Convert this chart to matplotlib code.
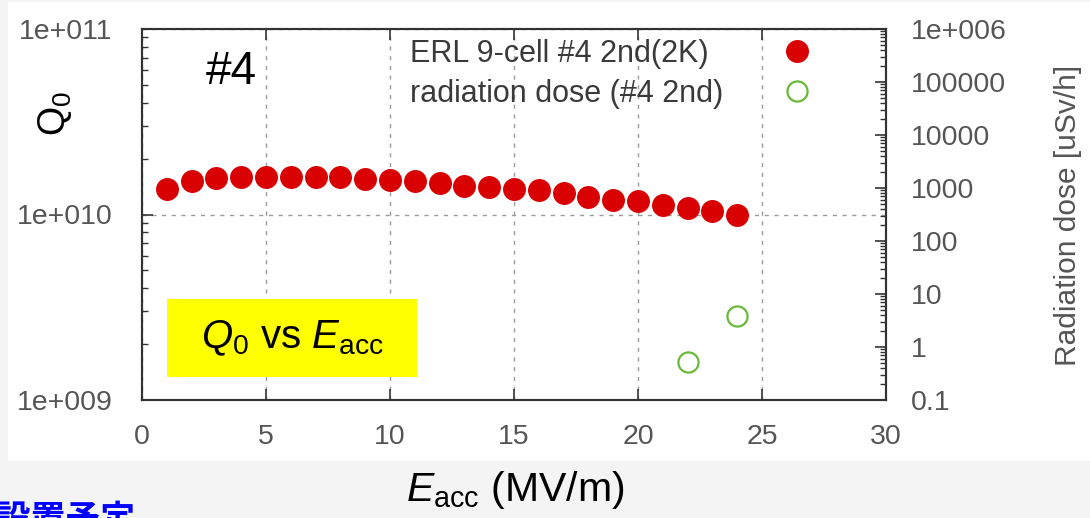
import matplotlib
matplotlib.use('Agg')
import matplotlib.pyplot as plt
from matplotlib.patches import Rectangle
from matplotlib.ticker import FixedLocator, FixedFormatter, LogLocator, NullFormatter, NullLocator

# ---------------- data ----------------
eacc = [1, 2, 3, 4, 5, 6, 7, 8, 9, 10, 11, 12, 13, 14, 15, 16, 17, 18, 19, 20, 21, 22, 23, 24]
q0 = [1.375e10, 1.51e10, 1.58e10, 1.60e10, 1.60e10, 1.60e10, 1.60e10, 1.60e10,
      1.56e10, 1.54e10, 1.51e10, 1.47e10, 1.42e10, 1.40e10, 1.38e10, 1.36e10,
      1.31e10, 1.25e10, 1.19e10, 1.18e10, 1.12e10, 1.09e10, 1.04e10, 1.00e10]
dose_eacc = [22, 24]
dose = [0.53, 3.9]

x_ticks = [0, 5, 10, 15, 20, 25, 30]
x_tick_labels = ['0', '5', '10', '15', '20', '25', '30']
q_ticks = [1e9, 1e10, 1e11]
q_tick_labels = ['1e+009', '1e+010', '1e+011']
dose_ticks = [0.1, 1, 10, 100, 1000, 10000, 100000, 1e6]
dose_tick_labels = ['0.1', '1', '10', '100', '1000', '10000', '100000', '1e+006']

series_labels = ['ERL 9-cell #4 2nd(2K)', 'radiation dose (#4 2nd)']

# ---------------- style ----------------
plt.rcParams['font.family'] = ['Liberation Sans', 'DejaVu Sans']
plt.rcParams['mathtext.fontset'] = 'custom'
plt.rcParams['mathtext.rm'] = 'Liberation Sans'
plt.rcParams['mathtext.it'] = 'Liberation Sans:italic'

W, H = 1090, 518
fig = plt.figure(figsize=(W / 100, H / 100), dpi=100, facecolor='#f4f4f4')
fig.add_artist(Rectangle((8 / W, 1 - 461 / H), 1 - 8 / W, 459 / H, transform=fig.transFigure,
                         facecolor='white', edgecolor='none', zorder=-5))

ax = fig.add_axes([142 / W, 1 - 400 / H, 744 / W, 371 / H])
ax.set_facecolor('white')
ax.set_xlim(0, 30)
ax.set_yscale('log')
ax.set_ylim(1e9, 1e11)

ax2 = ax.twinx()
ax2.set_yscale('log')
ax2.set_ylim(0.1, 1e6)

red = '#d80000'
green = '#6ab83a'
l1, = ax.plot(eacc, q0, linestyle='none', marker='o', markersize=15.5,
              markerfacecolor=red, markeredgecolor=red, zorder=3)
l2, = ax2.plot(dose_eacc, dose, linestyle='none', marker='o', markersize=14.5,
               markerfacecolor='none', markeredgecolor=green, markeredgewidth=1.6, zorder=3)

# ticks
ax.xaxis.set_major_locator(FixedLocator(x_ticks))
ax.xaxis.set_major_formatter(FixedFormatter(x_tick_labels))
ax.xaxis.set_minor_locator(NullLocator())
ax.yaxis.set_major_locator(FixedLocator(q_ticks))
ax.yaxis.set_major_formatter(FixedFormatter(q_tick_labels))
ax.yaxis.set_minor_locator(LogLocator(base=10, subs=[2, 3, 4, 5, 6, 7, 8, 9], numticks=20))
ax.yaxis.set_minor_formatter(NullFormatter())

ax2.yaxis.set_major_locator(FixedLocator(dose_ticks))
ax2.yaxis.set_major_formatter(FixedFormatter(dose_tick_labels))
ax2.yaxis.set_minor_locator(LogLocator(base=10, subs=[2, 3, 4, 5, 6, 7, 8, 9], numticks=20))
ax2.yaxis.set_minor_formatter(NullFormatter())

tick_color = '#555555'
spine_color = '#333333'
ax.tick_params(axis='x', which='major', direction='in', top=True, bottom=True, length=8, width=1.2,
               color=spine_color, labelsize=20.5, labelcolor=tick_color, pad=17)
ax.tick_params(axis='y', which='major', direction='in', left=True, right=False, length=8, width=1.2,
               color=spine_color, labelsize=20.5, labelcolor=tick_color, pad=21)
ax.tick_params(axis='y', which='minor', direction='in', left=True, right=False, length=4, width=1.0,
               color=spine_color)
ax2.tick_params(axis='y', which='major', direction='in', right=True, length=8, width=1.2,
                color=spine_color, labelsize=20.5, labelcolor=tick_color, pad=18)
ax2.tick_params(axis='y', which='minor', direction='in', right=True, length=4, width=1.0,
                color=spine_color)

for a in (ax, ax2):
    for s in a.spines.values():
        s.set_color(spine_color)
        s.set_linewidth(1.5)

ax.grid(True, which='major', axis='both', color='#9a9a9a', linestyle=(0, (3, 4)), linewidth=1.0)
ax.set_axisbelow(True)

# legend: left-justified texts (gnuplot key style) + markers column on the right
leg_top = 1 - 10 / 371
leg_text = ax2.legend([l1, l2], series_labels, loc='upper left', bbox_to_anchor=(268 / 744, leg_top),
                      frameon=False, markerfirst=True, handlelength=0, handletextpad=0,
                      borderpad=0, borderaxespad=0, labelspacing=0.33, fontsize=22,
                      labelcolor='#3a3a3a')
for h in leg_text.legend_handles:
    h.set_visible(False)
ax2.add_artist(leg_text)
leg_mark = ax2.legend([l1, l2], ['', ''], loc='upper center',
                      bbox_to_anchor=(655 / 744, leg_top),
                      frameon=False, handlelength=1.0, handletextpad=0,
                      borderpad=0, borderaxespad=0, labelspacing=0.33, fontsize=22)

# annotations
ax.text(0.1196, 0.884, '#4', transform=ax.transAxes, fontsize=33, color='black',
        ha='center', va='center')

fig.text(55 / W, 1 - 113 / H, r'$\mathregular{Q_0}$', rotation=90, fontsize=27,
         ha='center', va='center', color='black')
fig.text(1068 / W, 1 - 215 / H, 'Radiation dose [uSv/h]', rotation=90, fontsize=21.5,
         ha='center', va='center', color='#555555')
fig.text(515 / W, 1 - 490 / H, r'$\mathit{E}_{\mathregular{acc}}$ (MV/m)', fontsize=29.5,
         ha='center', va='center', color='black')

fig.add_artist(Rectangle((167 / W, 1 - 377 / H), 250 / W, 78 / H, transform=fig.transFigure,
                         facecolor='#ffff00', edgecolor='none', zorder=4))
fig.text(292 / W, 1 - 338 / H, r'$\mathit{Q}_{\mathregular{0}}$ vs $\mathit{E}_{\mathregular{acc}}$',
         fontsize=29, ha='center', va='center', color='black', zorder=5)

fig.text(135 / W, 17 / H, '設置予定', fontsize=25, fontweight='bold', color='#0000ff',
         ha='right', va='top', family=['Noto Sans CJK JP', 'DejaVu Sans'])

fig.savefig('out.png', dpi=100, facecolor=fig.get_facecolor())
